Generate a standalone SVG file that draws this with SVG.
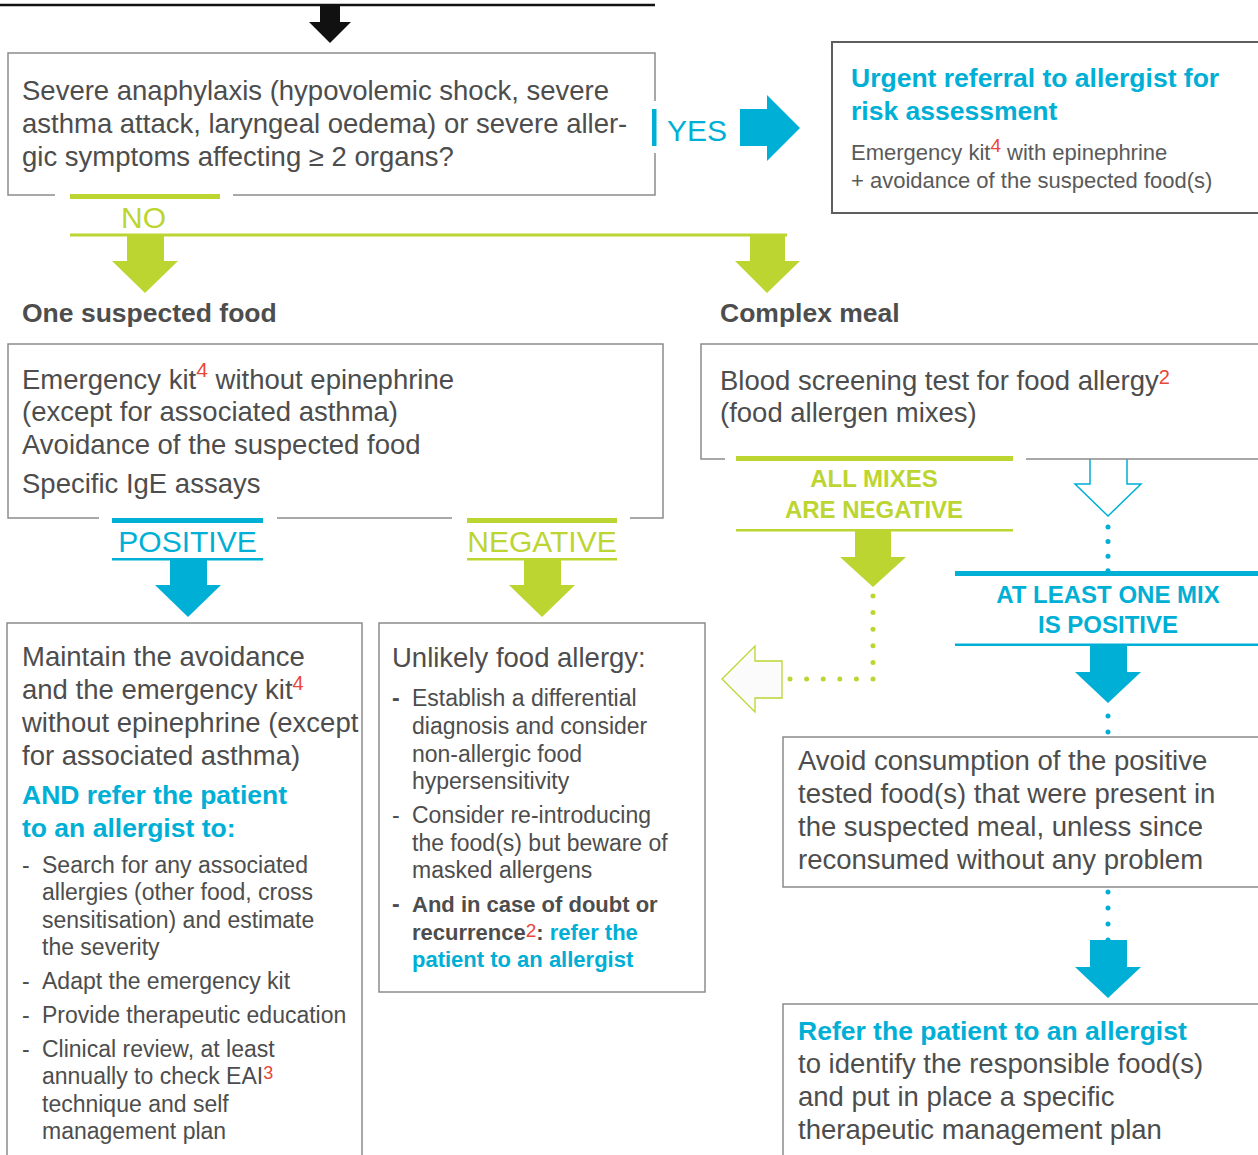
<svg xmlns="http://www.w3.org/2000/svg" width="1258" height="1155" viewBox="0 0 1258 1155">
<style>
text{font-family:"Liberation Sans",Arial,Helvetica,sans-serif;fill:#4d4d4d}
.m{font-size:27.5px}
.s{font-size:23px}
.x{font-size:22px;fill:#5a5a5a}
.hd{font-size:26.5px;font-weight:bold}
.cb{font-size:26.5px;font-weight:bold;fill:#00afd5}
.cyt{fill:#00afd5}
.grt{fill:#bcd531}
.sup{fill:#e8463b}
.bx{fill:none;stroke:#8c8c8c;stroke-width:1.5}
.cy{fill:#00afd5}
.gr{fill:#bcd531}
.cyl{stroke:#00afd5}
.grl{stroke:#bcd531}
.dot{fill:none;stroke-width:5;stroke-linecap:round}
.lab{font-size:30px}
.lab2{font-size:24px;font-weight:bold}
</style>

<g id="connectors">
  <line x1="0" y1="5" x2="655" y2="5" stroke="#111" stroke-width="2.5"/>
  <polygon points="320,5 340,5 340,22 351,22 330,43 309,22 320,22" fill="#111"/>
  <rect x="652" y="109" width="4.5" height="37" class="cy"/>
  <text x="667" y="141" class="lab cyt">YES</text>
  <polygon points="740,109 767,109 767,95 800,128 767,161 767,146 740,146" class="cy"/>
  <rect x="70" y="194" width="150" height="5" class="gr"/>
  <text x="121" y="228" class="lab grt">NO</text>
  <rect x="70" y="233.5" width="717" height="3" class="gr"/>
  <polygon points="127,236 164,236 164,261 178,261 145,293 112,261 127,261" class="gr"/>
  <polygon points="750,236 785,236 785,261 800,261 767,293 735,261 750,261" class="gr"/>
  <rect x="112" y="518" width="151" height="5" class="cy"/>
  <text x="187.5" y="552" class="lab cyt" text-anchor="middle">POSITIVE</text>
  <rect x="112" y="558" width="151" height="2.5" class="cy"/>
  <polygon points="170,560 207,560 207,585 221,585 188,617 155,585 170,585" class="cy"/>
  <rect x="467" y="518" width="150" height="5" class="gr"/>
  <text x="542" y="552" class="lab grt" text-anchor="middle">NEGATIVE</text>
  <rect x="467" y="558" width="150" height="2.5" class="gr"/>
  <polygon points="524,560 561,560 561,585 575,585 542,617 509,585 524,585" class="gr"/>
  <rect x="736" y="456" width="277" height="5" class="gr"/>
  <text x="874" y="487" class="lab2 grt" text-anchor="middle">ALL MIXES</text>
  <text x="874" y="518" class="lab2 grt" text-anchor="middle">ARE NEGATIVE</text>
  <rect x="736" y="529" width="277" height="2.5" class="gr"/>
  <polygon points="855,531 891,531 891,557 906,557 873,587 840,557 855,557" class="gr"/>
  <path d="M873 596 V679 H789" class="dot grl" stroke-dasharray="0 16.6"/>
  <polygon points="782,661 755,661 755,646 722,679 755,712 755,698 782,698" fill="#fbfbfb" stroke="#bcd531" stroke-width="1.3"/>
  <polyline points="1090,459 1090,484 1075,484 1108,516 1141,484 1127,484 1127,459" fill="#fff" stroke="#00afd5" stroke-width="1.5"/>
  <path d="M1108 527 V572" class="dot cyl" stroke-dasharray="0 14.6"/>
  <rect x="955" y="571" width="305" height="5" class="cy"/>
  <text x="1108" y="603" class="lab2 cyt" text-anchor="middle">AT LEAST ONE MIX</text>
  <text x="1108" y="633" class="lab2 cyt" text-anchor="middle">IS POSITIVE</text>
  <rect x="955" y="643.5" width="305" height="2.5" class="cy"/>
  <polygon points="1090,646 1127,646 1127,672 1141,672 1108,703 1075,672 1090,672" class="cy"/>
  <path d="M1108 716 V733" class="dot cyl" stroke-dasharray="0 16"/>
  <path d="M1108 892 V941" class="dot cyl" stroke-dasharray="0 16"/>
  <polygon points="1090,940 1127,940 1127,967 1141,967 1108,998 1075,967 1090,967" class="cy"/>
</g>

<g id="question">
  <path d="M655 101 V53 H8 V195 H55 M233 195 H655 V153" class="bx"/>
  <text x="22" y="100" class="m">Severe anaphylaxis (hypovolemic shock, severe</text>
  <text x="22" y="133" class="m">asthma attack, laryngeal oedema) or severe aller-</text>
  <text x="22" y="166" class="m">gic symptoms affecting ≥ 2 organs?</text>
</g>

<g id="urgent">
  <path d="M1262 42 H832 V213 H1262" fill="none" stroke="#5e5e5e" stroke-width="2"/>
  <text x="851" y="87" class="cb">Urgent referral to allergist for</text>
  <text x="851" y="120" class="cb">risk assessment</text>
  <text x="851" y="160" class="x">Emergency kit<tspan class="sup" style="font-size:19px" dy="-8">4</tspan><tspan dy="8"> with epinephrine</tspan></text>
  <text x="851" y="188" class="x">+ avoidance of the suspected food(s)</text>
</g>

<g id="one-food">
  <text x="22" y="322" class="hd">One suspected food</text>
  <path d="M99 518 H8 V344 H663 V518 H630 M452 518 H277" class="bx"/>
  <text x="22" y="389" class="m">Emergency kit<tspan class="sup" style="font-size:21px" dy="-12">4</tspan><tspan dy="12"> without epinephrine</tspan></text>
  <text x="22" y="421" class="m">(except for associated asthma)</text>
  <text x="22" y="454" class="m">Avoidance of the suspected food</text>
  <text x="22" y="493" class="m">Specific IgE assays</text>
</g>

<g id="complex-meal">
  <text x="720" y="322" class="hd">Complex meal</text>
  <path d="M725 459 H701 V344 H1262 M1262 459 H1026" class="bx"/>
  <text x="720" y="390" class="m">Blood screening test for food allergy<tspan class="sup" style="font-size:20px" dy="-6">2</tspan></text>
  <text x="720" y="422" class="m">(food allergen mixes)</text>
</g>

<g id="maintain">
  <path d="M7 1160 V623 H362 V1160" class="bx"/>
  <text x="22" y="666" class="m">Maintain the avoidance</text>
  <text x="22" y="699" class="m">and the emergency kit<tspan class="sup" style="font-size:20px" dy="-9">4</tspan></text>
  <text x="22" y="732" class="m">without epinephrine (except</text>
  <text x="22" y="765" class="m">for associated asthma)</text>
  <text x="22" y="804" class="cb">AND refer the patient</text>
  <text x="22" y="837" class="cb">to an allergist to:</text>
  <text x="22" y="873" class="s">-</text>
  <text x="42" y="873" class="s">Search for any associated</text>
  <text x="42" y="900" class="s">allergies (other food, cross</text>
  <text x="42" y="928" class="s">sensitisation) and estimate</text>
  <text x="42" y="955" class="s">the severity</text>
  <text x="22" y="989" class="s">-</text>
  <text x="42" y="989" class="s">Adapt the emergency kit</text>
  <text x="22" y="1023" class="s">-</text>
  <text x="42" y="1023" class="s">Provide therapeutic education</text>
  <text x="22" y="1057" class="s">-</text>
  <text x="42" y="1057" class="s">Clinical review, at least</text>
  <text x="42" y="1084" class="s">annually to check EAI<tspan class="sup" style="font-size:18px" dy="-5">3</tspan></text>
  <text x="42" y="1112" class="s">technique and self</text>
  <text x="42" y="1139" class="s">management plan</text>
</g>

<g id="unlikely">
  <rect x="379" y="623" width="326" height="369" class="bx"/>
  <text x="392" y="667" class="m">Unlikely food allergy:</text>
  <text x="392" y="706" class="s" font-weight="bold">-</text>
  <text x="412" y="706" class="s">Establish a differential</text>
  <text x="412" y="734" class="s">diagnosis and consider</text>
  <text x="412" y="762" class="s">non-allergic food</text>
  <text x="412" y="789" class="s">hypersensitivity</text>
  <text x="392" y="823" class="s">-</text>
  <text x="412" y="823" class="s">Consider re-introducing</text>
  <text x="412" y="851" class="s">the food(s) but beware of</text>
  <text x="412" y="878" class="s">masked allergens</text>
  <text x="392" y="912" class="s" font-weight="bold">-</text>
  <text x="412" y="912" font-size="22" font-weight="bold">And in case of doubt or</text>
  <text x="412" y="940" font-size="22" font-weight="bold">recurrence<tspan class="sup" style="font-size:19px;font-weight:normal" dy="-3">2</tspan><tspan dy="3">: </tspan><tspan class="cyt">refer the</tspan></text>
  <text x="412" y="967" font-size="22" font-weight="bold" class="cyt">patient to an allergist</text>
</g>

<g id="avoid">
  <path d="M1262 737 H783 V887 H1262" class="bx"/>
  <text x="798" y="770" class="m">Avoid consumption of the positive</text>
  <text x="798" y="803" class="m">tested food(s) that were present in</text>
  <text x="798" y="836" class="m">the suspected meal, unless since</text>
  <text x="798" y="869" class="m">reconsumed without any problem</text>
</g>

<g id="refer">
  <path d="M1262 1004 H783 V1160" class="bx"/>
  <text x="798" y="1040" class="cb">Refer the patient to an allergist</text>
  <text x="798" y="1073" class="m">to identify the responsible food(s)</text>
  <text x="798" y="1106" class="m">and put in place a specific</text>
  <text x="798" y="1139" class="m">therapeutic management plan</text>
</g>
</svg>
